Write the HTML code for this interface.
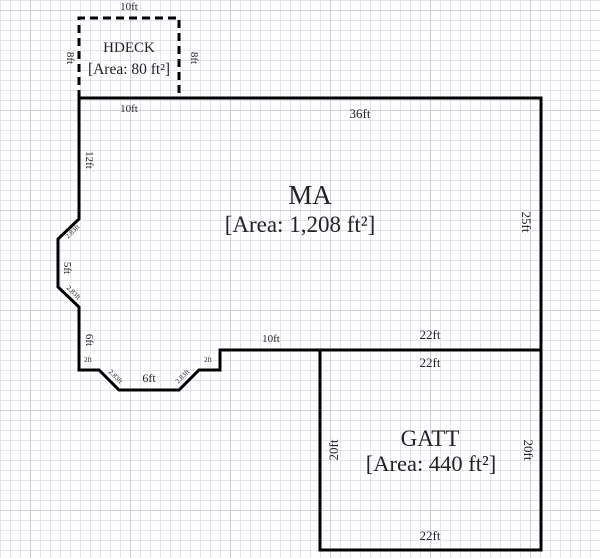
<!DOCTYPE html>
<html><head><meta charset="utf-8"><style>
html,body{margin:0;padding:0;background:#fff;}
svg{display:block;}
text{font-family:"Liberation Serif",serif;fill:#222;}
</style></head><body>
<svg width="600" height="558" viewBox="0 0 600 558" xmlns="http://www.w3.org/2000/svg">
<defs>
<pattern id="g" width="10" height="10" patternUnits="userSpaceOnUse" x="0" y="0">
<path d="M0 0.5H10M0.5 0V10" stroke="#e2e4ec" stroke-width="1" fill="none"/>
</pattern>
<pattern id="G" width="100" height="100" patternUnits="userSpaceOnUse" x="30" y="10">
<path d="M0 0.5H100M0.5 0V100" stroke="#cbcdd8" stroke-width="1" fill="none"/>
</pattern>
</defs>
<rect width="600" height="558" fill="url(#g)"/>
<rect width="600" height="558" fill="url(#G)"/>
<g fill="none" stroke="#000" stroke-width="3">
<path d="M79 98V18H179V98" stroke-dasharray="8,5"/>
<path d="M79 98H541V350H220V370H199L179 390H119L99 370H79V307L58 287V239L79 219Z" stroke-linejoin="miter"/>
<path d="M320 350V550H541V350"/>
</g>
<g font-size="11" text-anchor="middle">
<text x="129" y="10">10ft</text>
<text x="129" y="112">10ft</text>
<text x="360" y="118" font-size="13">36ft</text>
<text x="271" y="342">10ft</text>
<text x="430" y="339" font-size="13">22ft</text>
<text x="430" y="367" font-size="13">22ft</text>
<text x="430" y="540" font-size="13">22ft</text>
<text x="149" y="382" font-size="12">6ft</text>
</g>
<text x="129" y="52" font-size="15" text-anchor="middle">HDECK</text>
<text x="129" y="74" font-size="15.5" text-anchor="middle">[Area: 80 ft²]</text>
<text x="310" y="204" font-size="27" text-anchor="middle">MA</text>
<text x="300" y="232" font-size="23" text-anchor="middle">[Area: 1,208 ft²]</text>
<text x="430" y="446" font-size="23" text-anchor="middle">GATT</text>
<text x="431" y="471" font-size="22.5" text-anchor="middle">[Area: 440 ft²]</text>
<g font-size="11" text-anchor="middle">
<text transform="translate(67,58) rotate(90)">8ft</text>
<text transform="translate(191,58) rotate(90)">8ft</text>
<text transform="translate(86,160) rotate(90)">12ft</text>
<text transform="translate(522,222) rotate(90)" font-size="13">25ft</text>
<text transform="translate(64,268) rotate(90)">5ft</text>
<text transform="translate(86,340) rotate(90)">6ft</text>
<text transform="translate(338,450) rotate(-90)" font-size="13">20ft</text>
<text transform="translate(524,450) rotate(90)" font-size="13">20ft</text>
</g>
<g font-size="7" text-anchor="middle">
<text transform="translate(74,233) rotate(-45)">2.83ft</text>
<text transform="translate(72,294) rotate(45)">2.83ft</text>
<text x="88" y="362">2ft</text>
<text transform="translate(114,378) rotate(45)">2.83ft</text>
<text transform="translate(184,378) rotate(-45)">2.83ft</text>
<text x="208" y="362">2ft</text>
</g>
</svg>
</body></html>
